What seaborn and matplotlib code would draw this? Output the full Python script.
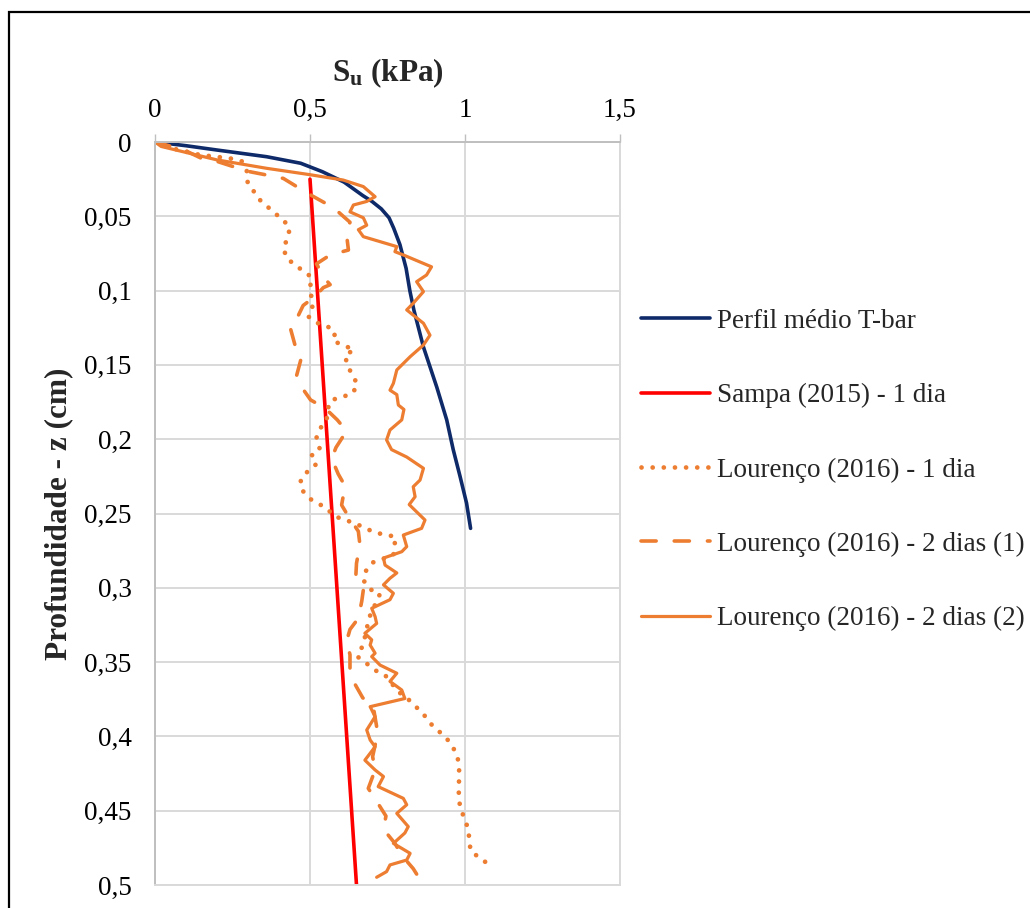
import matplotlib
matplotlib.use("Agg")
import matplotlib.pyplot as plt
import seaborn as sns
from matplotlib.patches import Rectangle

# ---- axis ticks -------------------------------------------------------------
x_ticks = [0.0, 0.5, 1.0, 1.5]
x_tick_labels = ["0", "0,5", "1", "1,5"]
y_ticks = [0.0, 0.05, 0.10, 0.15, 0.20, 0.25, 0.30, 0.35, 0.40, 0.45, 0.50]
y_tick_labels = ["0", "0,05", "0,1", "0,15", "0,2", "0,25", "0,3", "0,35",
                 "0,4", "0,45", "0,5"]

# ---- Perfil médio T-bar -----------------------------------------------------
tbar_su = [0.0, 0.10, 0.20, 0.36, 0.47, 0.54, 0.61, 0.67, 0.70, 0.73, 0.755,
           0.77, 0.79, 0.81, 0.822, 0.835, 0.866, 0.909, 0.941, 0.962, 0.984,
           1.005, 1.018]
tbar_z = [0.0, 0.0025, 0.0054, 0.0099, 0.0143, 0.020, 0.027, 0.036, 0.040,
          0.045, 0.051, 0.058, 0.069, 0.085, 0.100, 0.113, 0.138, 0.165,
          0.187, 0.207, 0.225, 0.243, 0.260]

# ---- Sampa (2015) - 1 dia ---------------------------------------------------
sampa_su = [0.50, 0.65]
sampa_z = [0.025, 0.50]

# ---- Lourenço (2016) - 1 dia ------------------------------------------------
l1_su = [0.0, 0.05, 0.145, 0.20, 0.242, 0.28, 0.296, 0.296, 0.312, 0.333,
         0.36, 0.387, 0.414, 0.435, 0.427, 0.414, 0.425, 0.452, 0.478, 0.505,
         0.50, 0.509, 0.495, 0.521, 0.556, 0.581, 0.575, 0.607, 0.642, 0.613,
         0.620, 0.637, 0.653, 0.638, 0.607, 0.570, 0.556, 0.554, 0.532, 0.521,
         0.532, 0.505, 0.519, 0.491, 0.470, 0.473, 0.503, 0.554, 0.577, 0.645,
         0.675, 0.708, 0.742, 0.776, 0.769, 0.702, 0.681, 0.674, 0.694, 0.726,
         0.691, 0.672, 0.653, 0.683, 0.713, 0.742, 0.785, 0.812, 0.839, 0.866,
         0.887, 0.911, 0.938, 0.959, 0.975, 0.981, 0.981, 0.980, 0.980, 0.986,
         1.000, 1.011, 1.014, 1.018, 1.046, 1.076]
l1_z = [0.0, 0.004, 0.0087, 0.010, 0.011, 0.013, 0.019, 0.026, 0.031, 0.038,
        0.043, 0.048, 0.0525, 0.058, 0.065, 0.0715, 0.078, 0.083, 0.0866,
        0.091, 0.0985, 0.110, 0.1175, 0.1216, 0.124, 0.128, 0.134, 0.1366,
        0.140, 0.1433, 0.150, 0.157, 0.163, 0.169, 0.1714, 0.1736, 0.180,
        0.187, 0.193, 0.199, 0.207, 0.211, 0.217, 0.222, 0.2275, 0.234,
        0.2405, 0.2465, 0.2517, 0.2566, 0.2595, 0.2627, 0.2643, 0.2656,
        0.278, 0.283, 0.2885, 0.2954, 0.301, 0.304, 0.320, 0.338, 0.3463,
        0.351, 0.3558, 0.3587, 0.370, 0.374, 0.3795, 0.385, 0.391, 0.3957,
        0.4006, 0.4065, 0.413, 0.420, 0.4275, 0.435, 0.442, 0.449, 0.456,
        0.463, 0.470, 0.477, 0.4816, 0.486]

# ---- Lourenço (2016) - 2 dias (1) -------------------------------------------
l2a_su = [0.0, 0.09, 0.15, 0.204, 0.253, 0.306, 0.355, 0.414, 0.457, 0.505,
          0.548, 0.591, 0.629, 0.618, 0.624, 0.565, 0.521, 0.548, 0.565, 0.543,
          0.516, 0.478, 0.457, 0.435, 0.452, 0.473, 0.457, 0.473, 0.502, 0.548,
          0.588, 0.618, 0.584, 0.570, 0.591, 0.613, 0.602, 0.624, 0.656, 0.661,
          0.650, 0.648, 0.672, 0.667, 0.656, 0.629, 0.618, 0.629, 0.629, 0.640,
          0.670, 0.704, 0.715, 0.713, 0.702, 0.710, 0.688, 0.713, 0.745, 0.737,
          0.774, 0.796, 0.833, 0.860]
l2a_z = [0.0, 0.005, 0.011, 0.0133, 0.0166, 0.020, 0.022, 0.0245, 0.030,
         0.036, 0.041, 0.047, 0.054, 0.0626, 0.0727, 0.076, 0.082, 0.092,
         0.096, 0.098, 0.104, 0.110, 0.119, 0.124, 0.137, 0.1445, 0.157,
         0.165, 0.1736, 0.179, 0.187, 0.1945, 0.2055, 0.213, 0.2234, 0.2315,
         0.2443, 0.252, 0.262, 0.271, 0.2835, 0.2914, 0.3015, 0.309, 0.3205,
         0.328, 0.336, 0.345, 0.355, 0.363, 0.374, 0.380, 0.3934, 0.403,
         0.4136, 0.4226, 0.435, 0.443, 0.4536, 0.4625, 0.472, 0.480, 0.489,
         0.498]

# ---- Lourenço (2016) - 2 dias (2) -------------------------------------------
l2b_su = [0.0, 0.02, 0.199, 0.36, 0.50, 0.607, 0.672, 0.71, 0.683, 0.640,
          0.629, 0.672, 0.683, 0.656, 0.672, 0.78, 0.774, 0.801, 0.892, 0.876,
          0.844, 0.866, 0.833, 0.812, 0.866, 0.887, 0.866, 0.823, 0.780, 0.769,
          0.758, 0.780, 0.785, 0.803, 0.796, 0.758, 0.747, 0.763, 0.812, 0.866,
          0.855, 0.833, 0.839, 0.820, 0.871, 0.860, 0.801, 0.812, 0.796, 0.737,
          0.742, 0.780, 0.758, 0.737, 0.769, 0.758, 0.699, 0.710, 0.715, 0.677,
          0.699, 0.694, 0.710, 0.699, 0.726, 0.780, 0.758, 0.796, 0.806, 0.694,
          0.710, 0.683, 0.694, 0.710, 0.677, 0.710, 0.737, 0.720, 0.801, 0.812,
          0.780, 0.817, 0.806, 0.769, 0.823, 0.812, 0.758, 0.747, 0.715]
l2b_z = [0.0, 0.003, 0.012, 0.0177, 0.022, 0.0256, 0.030, 0.0368, 0.040,
         0.0424, 0.047, 0.051, 0.056, 0.059, 0.0637, 0.0704, 0.0738, 0.076,
         0.084, 0.0895, 0.094, 0.1007, 0.1085, 0.113, 0.122, 0.130, 0.1366,
         0.1445, 0.1534, 0.1624, 0.167, 0.170, 0.177, 0.180, 0.187, 0.1938,
         0.2005, 0.207, 0.212, 0.2196, 0.2275, 0.232, 0.2387, 0.244, 0.2544,
         0.260, 0.2645, 0.2723, 0.2757, 0.280, 0.2847, 0.290, 0.2936, 0.298,
         0.3037, 0.308, 0.3138, 0.3194, 0.324, 0.3306, 0.335, 0.3385, 0.344,
         0.3463, 0.352, 0.3575, 0.363, 0.3688, 0.3745, 0.380, 0.3867, 0.3957,
         0.4024, 0.407, 0.416, 0.4226, 0.427, 0.4338, 0.4417, 0.446, 0.4518,
         0.4607, 0.465, 0.472, 0.4787, 0.4832, 0.4865, 0.491, 0.4948]

series_labels = ["Perfil médio T-bar", "Sampa (2015) - 1 dia",
                 "Lourenço (2016) - 1 dia", "Lourenço (2016) - 2 dias (1)",
                 "Lourenço (2016) - 2 dias (2)"]

NAVY = "#0f2a68"
RED = "#ff0000"
ORANGE = "#ed7d31"
GRID = "#d9d9d9"
AXIS = "#bfbfbf"

sns.set_theme(style="whitegrid")
plt.rcParams["font.family"] = ["Liberation Serif", "DejaVu Serif"]
plt.rcParams["mathtext.fontset"] = "custom"
plt.rcParams["mathtext.rm"] = "Liberation Serif"
plt.rcParams["mathtext.bf"] = "Liberation Serif:bold"
plt.rcParams["mathtext.it"] = "Liberation Serif:italic"

FS = 19.5       # tick labels and legend
FS_TITLE = 22.5 # axis titles
W, H = 1030, 908
fig = plt.figure(figsize=(W / 100, H / 100), dpi=100)
ax = fig.add_axes([155 / W, 1 - 885 / H, 465 / W, 743 / H])

common = dict(ax=ax, sort=False, estimator=None)
sns.lineplot(x=tbar_su, y=tbar_z, color=NAVY, lw=2.6, label=series_labels[0], **common)
sns.lineplot(x=sampa_su, y=sampa_z, color=RED, lw=2.6, label=series_labels[1], **common)
sns.lineplot(x=l1_su, y=l1_z, color=ORANGE, lw=3.4, label=series_labels[2], **common)
ax.lines[-1].set_dashes((0.01, 2.35))
ax.lines[-1].set_dash_capstyle("round")
sns.lineplot(x=l2a_su, y=l2a_z, color=ORANGE, lw=2.6, label=series_labels[3], **common)
ax.lines[-1].set_dashes((4.2, 5.0))
ax.lines[-1].set_dash_capstyle("round")
sns.lineplot(x=l2b_su, y=l2b_z, color=ORANGE, lw=2.3, label=series_labels[4], **common)
for ln in ax.lines:
    ln.set_solid_capstyle("round")
    ln.set_solid_joinstyle("round")

ax.set_xlim(0, 1.5)
ax.set_ylim(0.5, 0)
ax.set_xticks(x_ticks)
ax.set_xticklabels(x_tick_labels)
ax.set_yticks(y_ticks)
ax.set_yticklabels(y_tick_labels)
ax.xaxis.tick_top()
ax.xaxis.set_label_position("top")
ax.tick_params(axis="both", which="major", labelsize=FS, colors=AXIS,
               labelcolor="black", length=8 * 0.72, width=1.0, direction="out")
ax.tick_params(axis="x", pad=8)
ax.tick_params(axis="y", pad=11)
ax.grid(True, color=GRID, lw=1.4)
ax.set_facecolor("white")
for side, sp in ax.spines.items():
    sp.set_visible(True)
    sp.set_color(GRID)
    sp.set_linewidth(1.4)
ax.spines["left"].set_color(AXIS)
ax.spines["top"].set_color(AXIS)

ax.set_xlabel(r"$\mathbf{S_u}$ (kPa)", fontsize=FS_TITLE, fontweight="bold", labelpad=12)
ax.set_ylabel("Profundidade - z (cm)", fontsize=FS_TITLE, fontweight="bold", labelpad=8)

leg = ax.legend(loc="center left", bbox_to_anchor=(641 / W, 1 - 470 / H),
                bbox_transform=fig.transFigure, frameon=False, fontsize=FS,
                handlelength=2.55, handletextpad=0.25, labelspacing=1.82,
                borderpad=0, borderaxespad=0)

# outer chart frame
fig.add_artist(Rectangle((9 / W, -0.2), 1.2, (H - 12) / H + 0.2,
                         transform=fig.transFigure, fill=False,
                         ec="black", lw=1.6, clip_on=False))

fig.savefig("out.png", dpi=100, facecolor="white")
